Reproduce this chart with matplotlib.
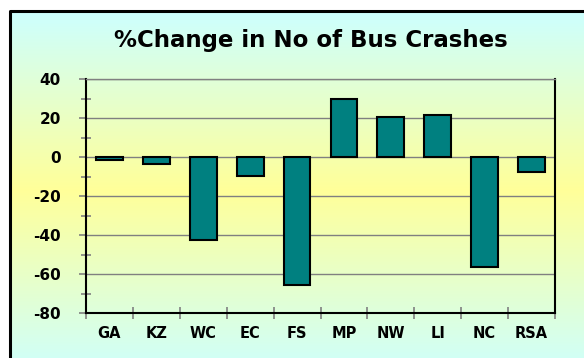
import numpy as np
import matplotlib
matplotlib.use('Agg')
import matplotlib.pyplot as plt
from matplotlib.colors import LinearSegmentedColormap
from matplotlib.ticker import MultipleLocator

# Data
regions = ['GA', 'KZ', 'WC', 'EC', 'FS', 'MP', 'NW', 'LI', 'NC', 'RSA']
pct_change = [-1.4, -3.4, -42.7, -9.7, -65.8, 29.8, 20.7, 21.7, -56.5, -7.6]
y_ticks = [40, 20, 0, -20, -40, -60, -80]

W, H = 584, 358
fig = plt.figure(figsize=(W / 100, H / 100), dpi=100)
fig.patch.set_facecolor('white')

# Background: cyan -> yellow -> cyan gradient, it runs off the right and
# bottom edge of the picture (drawn as quads, not as an image)
frame_top, frame_left = 11, 10
bg = fig.add_axes([frame_left / W, 0, 1 - frame_left / W, 1 - frame_top / H])
bg.set_axis_off()
n = 300
edges = np.linspace(1, 0, n + 1)
t = (np.arange(n) + 0.5) / n
peak = (190 - frame_top) / (H - frame_top)
mix = np.where(t < peak, t / peak, 1 - (t - peak) / (1 - peak) * 0.9)
bg_cmap = LinearSegmentedColormap.from_list('bg', ['#ccffff', '#ffff99'])
bg.pcolormesh([0, 1], edges, mix[:, None], cmap=bg_cmap, vmin=0, vmax=1,
              shading='flat', edgecolors='none', antialiased=False)
bg.set_xlim(0, 1)
bg.set_ylim(0, 1)

# Plot area
x0, x1, y_top, y_bot = 86, 555, 79, 313
ax = fig.add_axes([x0 / W, (H - y_bot) / H, (x1 - x0) / W, (y_bot - y_top) / H])
ax.set_facecolor('none')

x = np.arange(len(regions))
ax.bar(x, pct_change, width=0.57, color='#008080', edgecolor='black',
       linewidth=1.5, zorder=3)

ax.set_xlim(-0.5, len(regions) - 0.5)
ax.set_ylim(-80, 40)
ax.set_yticks(y_ticks)
ax.set_yticklabels([str(v) for v in y_ticks])
ax.yaxis.set_minor_locator(MultipleLocator(10))
ax.grid(axis='y', which='major', color='#808080', linewidth=1, zorder=1)

# x ticks sit between categories, labels centred under the bars
ax.set_xticks(np.arange(-0.5, len(regions), 1.0))
ax.set_xticklabels([])
ax.set_xticks(x, minor=True)
ax.set_xticklabels(regions, minor=True, fontsize=10.5, fontweight='bold',
                   family='DejaVu Sans')
ax.tick_params(axis='x', which='major', direction='inout', length=8,
               color='#808080', width=1.2)
ax.tick_params(axis='x', which='minor', length=0, pad=9)
ax.tick_params(axis='y', which='major', direction='out', length=5,
               color='#808080', width=1.2, pad=13, labelsize=11)
ax.tick_params(axis='y', which='minor', direction='inout', length=7,
               color='#808080', width=1.2)
for lab in ax.get_yticklabels():
    lab.set_fontweight('bold')

for side in ['left', 'bottom', 'right']:
    ax.spines[side].set_color('black')
    ax.spines[side].set_linewidth(1.5)
ax.spines['top'].set_color('#808080')
ax.spines['top'].set_linewidth(1)

# black frame: only its top and left sides fall inside the picture
fx = frame_left / W
fy = 1 - frame_top / H
fig.add_artist(plt.Line2D([fx, fx, 1.0], [0.0, fy, fy], color='black',
                          linewidth=2.2, transform=fig.transFigure))

fig.text(311 / W, 1 - 40 / H, '%Change in No of Bus Crashes', ha='center',
         va='center', fontsize=16.5, fontweight='bold', family='DejaVu Sans')

plt.savefig('out.png', dpi=100)
